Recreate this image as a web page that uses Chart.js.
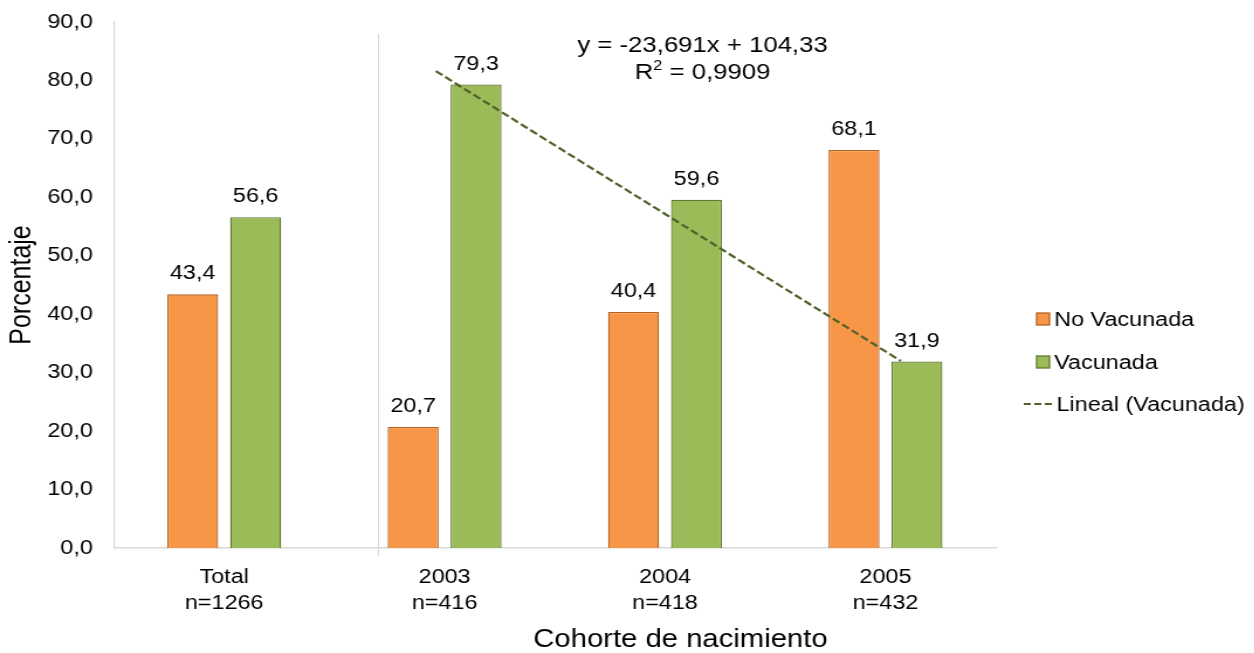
<!DOCTYPE html>
<html>
<head>
<meta charset="utf-8">
<script src="https://cdn.jsdelivr.net/npm/chart.js@4/dist/chart.umd.min.js"></script>
<style>
body{margin:0;background:#fff;overflow:hidden}
#wrap{width:1072px;height:653px;transform:scaleX(1.17);transform-origin:0 0}
canvas{display:block}
</style>
</head>
<body>
<div id="wrap"><canvas id="graf" width="1072" height="653"></canvas></div>
<script>
var cohortes = ["Total", "2003", "2004", "2005"]
var enes = ["n=1266", "n=416", "n=418", "n=432"]
var noVacunada = [43.4, 20.7, 40.4, 68.1]
var vacunada = [56.6, 79.3, 59.6, 31.9]
// tendencia (extremos de la linea, x = indice de cohorte)
var tendX = [0.96, 3.07]
var tendY = [81.6, 32.0]
var ecuacion = ["y = -23,691x + 104,33", "0,9909"]
var yTicks = [0, 10, 20, 30, 40, 50, 60, 70, 80, 90]

var fuente = "'Liberation Sans', Arial, sans-serif"
Chart.defaults.font.family = fuente
Chart.defaults.color = "#000"

function coma(v){
	return v.toFixed(1).replace(".", ",")
}

var etiquetas = []
var xTicks = []
var barrasNo = []
var barrasSi = []
for(var i=0;i<cohortes.length;i++){
	etiquetas.push([cohortes[i], enes[i]])
	xTicks.push(i)
	barrasNo.push({x: i, y: noVacunada[i]})
	barrasSi.push({x: i, y: vacunada[i]})
}
var tend = []
for(var i=0;i<tendX.length;i++){
	tend.push({x: tendX[i], y: tendY[i]})
}

var extras = {
	id: "extras",
	beforeDatasetsDraw: function(chart){
		var ctx = chart.ctx
		var x = chart.scales.x, y = chart.scales.y
		// linea separadora entre Total y cohortes
		var sx = Math.round(x.getPixelForValue(0.697)) + 0.5
		ctx.save()
		ctx.strokeStyle = "#d9d9d9"
		ctx.lineWidth = 1
		ctx.beginPath()
		ctx.moveTo(sx, y.getPixelForValue(88))
		ctx.lineTo(sx, chart.chartArea.bottom + 8)
		ctx.stroke()
		ctx.restore()
	},
	afterDatasetsDraw: function(chart){
		var ctx = chart.ctx
		var ca = chart.chartArea
		ctx.save()
		ctx.font = "20px " + fuente
		ctx.fillStyle = "#000"
		ctx.textAlign = "center"
		ctx.textBaseline = "alphabetic"
		var series = [noVacunada, vacunada]
		for(var d=1;d<3;d++){
			var meta = chart.getDatasetMeta(d)
			for(var i=0;i<meta.data.length;i++){
				var el = meta.data[i]
				ctx.fillText(coma(series[d-1][i]), el.x, el.y - 15)
			}
		}
		// ecuacion de la tendencia
		var ex = chart.scales.x.getPixelForValue(2.17)
		ctx.font = "22px " + fuente
		ctx.fillText(ecuacion[0], ex, ca.top + 30)
		var a = ctx.measureText("R").width
		ctx.font = "14px " + fuente
		var b = ctx.measureText("2").width
		ctx.font = "22px " + fuente
		var c = ctx.measureText(" = " + ecuacion[1]).width
		var x0 = ex - (a + b + c) / 2
		ctx.textAlign = "left"
		ctx.fillText("R", x0, ca.top + 57)
		ctx.font = "14px " + fuente
		ctx.fillText("2", x0 + a, ca.top + 48)
		ctx.font = "22px " + fuente
		ctx.fillText(" = " + ecuacion[1], x0 + a + b, ca.top + 57)
		// titulo eje x
		ctx.textAlign = "center"
		ctx.font = "25px " + fuente
		ctx.fillText("Cohorte de nacimiento", chart.scales.x.getPixelForValue(2.07), 647)
		// leyenda
		var lx = ca.right + 35
		var filas = [
			{t: "No Vacunada", f: "#f79646", b: "#b5611f", y: 319},
			{t: "Vacunada", f: "#9bbb59", b: "#5f7a30", y: 362}
		]
		ctx.font = "20px " + fuente
		ctx.textBaseline = "middle"
		ctx.textAlign = "left"
		for(var i=0;i<filas.length;i++){
			ctx.fillStyle = filas[i].f
			ctx.fillRect(lx, filas[i].y - 6, 11, 12)
			ctx.strokeStyle = filas[i].b
			ctx.lineWidth = 1.3
			ctx.strokeRect(lx, filas[i].y - 6, 11, 12)
			ctx.fillStyle = "#000"
			ctx.fillText(filas[i].t, lx + 15, filas[i].y + 1)
		}
		ctx.strokeStyle = "#4f6228"
		ctx.lineWidth = 2.2
		ctx.setLineDash([6, 3])
		ctx.beginPath()
		ctx.moveTo(lx - 11, 404)
		ctx.lineTo(lx + 14, 404)
		ctx.stroke()
		ctx.setLineDash([])
		ctx.fillStyle = "#000"
		ctx.fillText("Lineal (Vacunada)", lx + 17, 405)
		ctx.restore()
	}
}

new Chart("graf", {
	data: {
		datasets: [
			{type: "line", label: "Lineal (Vacunada)", data: tend, borderColor: "#4f6228",
				borderWidth: 2.2, borderDash: [7, 3], pointRadius: 0, fill: false, order: 0},
			{type: "bar", label: "No Vacunada", data: barrasNo, backgroundColor: "#f79646", borderColor: "#b5611f",
				borderWidth: 1.3, categoryPercentage: 0.571, barPercentage: 0.81, order: 1},
			{type: "bar", label: "Vacunada", data: barrasSi, backgroundColor: "#9bbb59", borderColor: "#5f7a30",
				borderWidth: 1.3, categoryPercentage: 0.571, barPercentage: 0.81, order: 1}
		]
	},
	options: {
		responsive: false,
		animation: false,
		devicePixelRatio: 1,
		layout: {padding: {top: 22, right: 221, left: 0, bottom: 0}},
		plugins: {legend: {display: false}, tooltip: {enabled: false}},
		scales: {
			x: {
				type: "linear",
				min: -0.5,
				max: 3.5,
				offset: false,
				afterBuildTicks: function(s){ s.ticks = xTicks.map(function(v){ return {value: v} }) },
				grid: {display: false, drawTicks: false},
				border: {display: true, color: "#d9d9d9", width: 1.5},
				ticks: {font: {size: 20, lineHeight: 1.3}, padding: 16, color: "#000", maxRotation: 0, autoSkip: false,
					callback: function(v){ return etiquetas[v] }},
				afterFit: function(s){ s.height = 105 }
			},
			y: {
				min: 0,
				max: 90,
				afterBuildTicks: function(s){ s.ticks = yTicks.map(function(v){ return {value: v} }) },
				grid: {display: false, drawTicks: false},
				border: {display: true, color: "#d9d9d9", width: 1.2},
				ticks: {font: {size: 20}, padding: 18, color: "#000", callback: function(v){ return coma(v) }},
				title: {display: true, text: "Porcentaje", font: {size: 25, lineHeight: 1.2}, padding: {top: 4, bottom: 0}, color: "#000"},
				afterFit: function(s){ s.width = 97.4; s.paddingTop = 10; s.paddingBottom = 10 }
			}
		}
	},
	plugins: [extras]
})
</script>
</body>
</html>
